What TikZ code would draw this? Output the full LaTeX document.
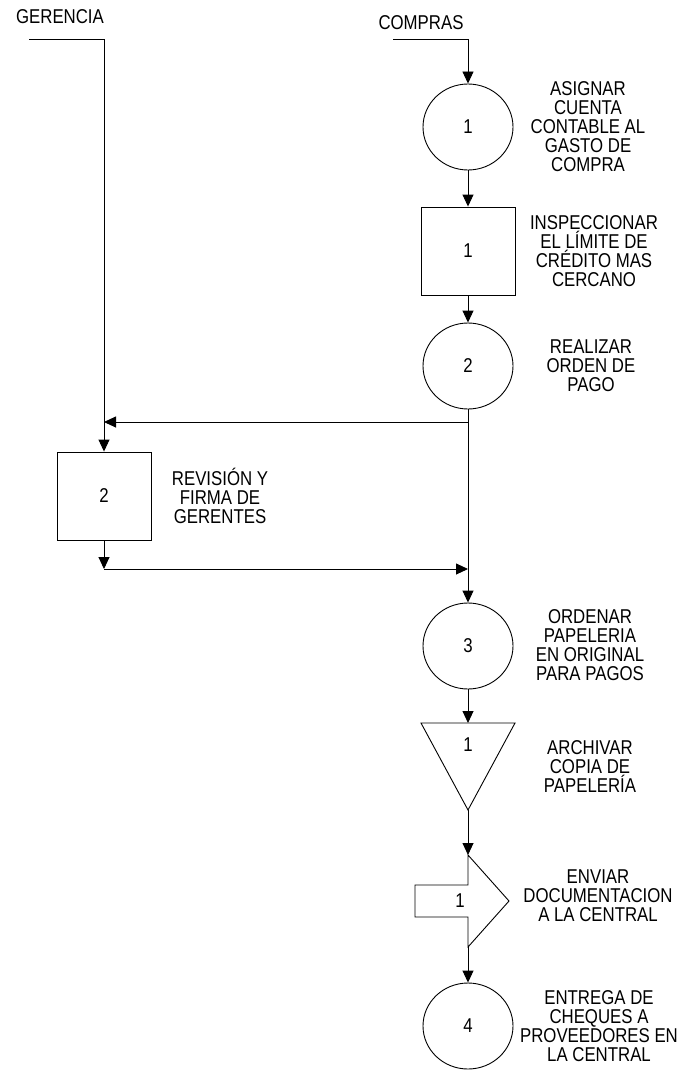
\documentclass[tikz,border=0pt]{standalone}
\usepackage{fontspec}
\setmainfont{Liberation Sans}[FakeStretch=0.84]
\usetikzlibrary{arrows.meta,shapes.geometric}
\begin{document}
\begin{tikzpicture}[x=1pt,y=-1pt,
  line width=0.9pt,
  every node/.style={font=\fontsize{20}{19}\selectfont, inner sep=0pt},
  flow/.style={draw, -{Triangle[length=12pt,width=11pt]}},
  proc/.style={draw, ellipse, minimum width=90pt, minimum height=86pt},
  insp/.style={draw, rectangle, minimum width=94pt, minimum height=88pt},
  lbl/.style={align=center}]

% canvas
\fill[white] (0,0) rectangle (687,1070);
\useasboundingbox (0,0) rectangle (687,1070);

% departments
\node[anchor=base] (ger) at (60,24) {GERENCIA};
\node[anchor=base] (com) at (421,29.5) {COMPRAS};
\coordinate (gerstart) at (29,39);
\coordinate (comstart) at (393,39);

% main column
\node[proc] (c1) at (468,127) {1};
\node[insp] (b1) at (468,251) {1};
\node[proc] (c2) at (468,366) {2};
\node[proc] (c3) at (468,646) {3};
\node[proc] (c4) at (468,1026) {4};

% manager review
\node[insp] (b2) at (104,496) {2};

% storage (inverted triangle)
\coordinate (ttop) at (468,723);
\coordinate (tapex) at (468,810);
\draw (421,723) -- (515,723) -- (tapex) -- cycle;
\node (tn) at (468,745) {1};

% transport (arrow shape)
\coordinate (ptop) at (468,855);
\coordinate (pbot) at (468,947);
\draw (ptop) -- (468,885) -- (415,885) -- (415,917) -- (468,917) -- (pbot) -- (509,901) -- cycle;
\node (pn) at (460,901) {1};

% descriptions
\node[lbl] (d1) at (588,127) {ASIGNAR\\CUENTA\\CONTABLE AL\\GASTO DE\\COMPRA};
\node[lbl] (d2) at (594,251) {INSPECCIONAR\\EL LÍMITE DE\\CRÉDITO MAS\\CERCANO};
\node[lbl] (d3) at (591,366) {REALIZAR\\ORDEN DE\\PAGO};
\node[lbl] (d4) at (220,496) {REVISIÓN Y\\FIRMA DE\\GERENTES};
\node[lbl] (d5) at (590,645) {ORDENAR\\PAPELERIA\\EN ORIGINAL\\PARA PAGOS};
\node[lbl] (d6) at (590,767) {ARCHIVAR\\COPIA DE\\PAPELERÍA};
\node[lbl] (d7) at (598,896) {ENVIAR\\DOCUMENTACION\\A LA CENTRAL};
\node[lbl] (d8) at (599,1026) {ENTREGA DE\\CHEQUES A\\PROVEEDORES EN\\LA CENTRAL};

% junctions
\coordinate (j1) at (468,422);
\coordinate (j2) at (468,569);
\coordinate (j3) at (104,422);
\coordinate (j4) at (104,569);

% connectors
\draw[flow] (comstart) -| (c1.north);
\draw[flow] (c1.south) -- (b1.north);
\draw[flow] (b1.south) -- (c2.north);
\draw[flow] (c2.south) -- (c3.north);
\draw[flow] (gerstart) -| (b2.north);
\draw[flow] (j1) -- (j3);
\draw[flow] (b2.south) -- (j4);
\draw[flow] (j4) -- (j2);
\draw[flow] (c3.south) -- (ttop);
\draw[flow] (tapex) -- (ptop);
\draw[flow] (pbot) -- (c4.north);

\end{tikzpicture}
\end{document}
